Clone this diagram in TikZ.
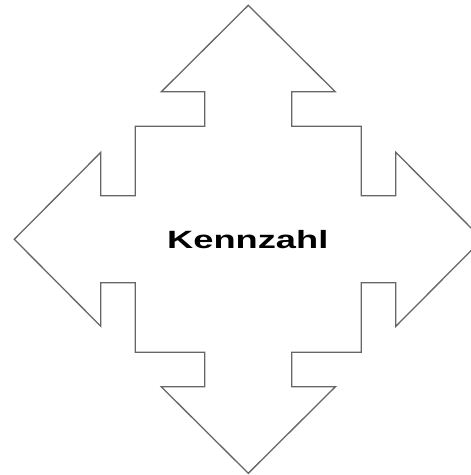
\documentclass[tikz,border=0pt]{standalone}
\usepackage{fontspec}
\setmainfont{Liberation Sans}
\usepackage{tikz}
\usetikzlibrary{positioning}

\begin{document}
\begin{tikzpicture}[
    x=1pt, y=1pt,
    cross/.style={draw=black!60, line width=1.3pt, line join=miter},
    title/.style={font=\bfseries\fontsize{25}{28}\selectfont, inner sep=0pt}
]
    % Frame
    \useasboundingbox[fill=white] (-248.3,-235.7) rectangle (222.7,239.3);

    % Four-way arrow
    \draw[cross] (234,0) -- (147.5,87) -- (147.5,43.5) -- (113,43.5)
        -- (113,113) -- (43.5,113) -- (43.5,147.5) -- (87,147.5)
        -- (0,234) -- (-87,147.5) -- (-43.5,147.5) -- (-43.5,113)
        -- (-113,113) -- (-113,43.5) -- (-147.5,43.5) -- (-147.5,87)
        -- (-234,0) -- (-147.5,-87) -- (-147.5,-43.5) -- (-113,-43.5)
        -- (-113,-113) -- (-43.5,-113) -- (-43.5,-147.5) -- (-87,-147.5)
        -- (0,-234) -- (87,-147.5) -- (43.5,-147.5) -- (43.5,-113)
        -- (113,-113) -- (113,-43.5) -- (147.5,-43.5) -- (147.5,-87)
        -- cycle;

    % Label
    \node (kennzahl) [title] at (-0.5,-0.5) {\scalebox{1.45}[1]{Kennzahl}};
\end{tikzpicture}
\end{document}
